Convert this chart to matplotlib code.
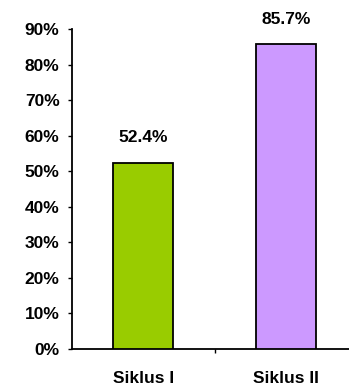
import matplotlib.pyplot as plt
import numpy as np

categories = ['Siklus I', 'Siklus II']
values = [52.4, 85.7]
value_labels = ['52.4%', '85.7%']
bar_colors = ['#99CC00', '#CC99FF']
yticks = [0, 10, 20, 30, 40, 50, 60, 70, 80, 90]

W, H = 349, 392
fig = plt.figure(figsize=(W / 100, H / 100), dpi=100)
ax = fig.add_axes([72 / W, 1 - 349 / H, (W - 72) / W, (349 - 29) / H])

x = np.arange(len(categories))
ax.bar(x, values, width=0.42, color=bar_colors, edgecolor='black', linewidth=1.3, zorder=3)

fs = 12.5
for xi, v, lab in zip(x, values, value_labels):
    ax.text(xi, v + 5, lab, ha='center', va='bottom', fontsize=fs,
            fontweight='bold', family='Liberation Sans')

ax.set_xlim(-0.5, 1.44)
ax.set_ylim(0, 90)
ax.set_yticks(yticks)
ax.set_yticklabels([f'{t}%' for t in yticks], fontsize=fs, fontweight='bold',
                   family='Liberation Sans')
ax.tick_params(axis='y', length=3, width=1, pad=6)

# category names sit under the bars, the single tick sits between them
ax.set_xticks([0.5])
ax.set_xticklabels([''])
ax.tick_params(axis='x', length=3, width=1)
for xi, name in zip(x, categories):
    ax.text(xi, -0.068, name, transform=ax.get_xaxis_transform(), ha='center',
            va='top', fontsize=fs, fontweight='bold', family='Liberation Sans')

for s in ['top', 'right']:
    ax.spines[s].set_visible(False)
for s in ['left', 'bottom']:
    ax.spines[s].set_linewidth(1.3)

fig.savefig('out.png', dpi=100)
